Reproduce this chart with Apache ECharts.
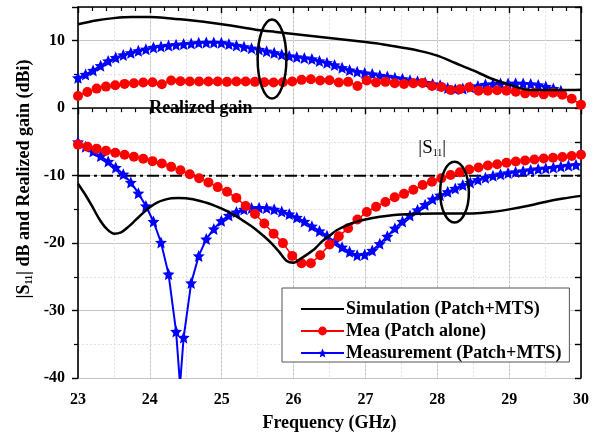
<!DOCTYPE html>
<html><head><meta charset="utf-8">
<script src="https://cdn.jsdelivr.net/npm/echarts@6/dist/echarts.min.js"></script>
<style>html,body{margin:0;padding:0;background:#fff}#c{width:598px;height:441px}</style>
</head><body><div id="c"></div>
<script>
// ---------- data ----------
const xTickLabels = [23, 24, 25, 26, 27, 28, 29, 30];
const yTickLabels = [-40, -30, -20, -10, 0, 10];

// Simulation (Patch+MTS)
const simGainFreq = [23.0,23.25,23.5,23.75,24.0,24.25,24.5,24.75,25.0,25.25,25.5,25.75,26.0,26.25,26.5,26.75,27.0,27.25,27.5,27.75,28.0,28.25,28.5,28.75,29.0,29.25,29.5,29.75,30.0];
const simGain     = [12.45,13.0,13.35,13.5,13.5,13.35,13.1,12.8,12.45,12.05,11.6,11.3,11.0,10.7,10.4,10.1,9.8,9.45,9.0,8.5,7.8,6.7,5.6,4.4,3.5,2.75,2.7,2.7,2.75];
const simS11Freq  = [23.0,23.1,23.2,23.3,23.4,23.5,23.6,23.7,23.8,23.9,24.0,24.1,24.2,24.3,24.4,24.5,24.6,24.7,24.8,24.9,25.0,25.1,25.2,25.3,25.4,25.5,25.6,25.7,25.8,25.9,26.0,26.1,26.2,26.3,26.4,26.5,26.6,26.8,27.0,27.2,27.5,28.0,28.5,28.75,29.0,29.25,29.5,29.75,30.0];
const simS11      = [-11.2,-12.8,-14.6,-16.5,-17.9,-18.6,-18.4,-17.6,-16.6,-15.6,-14.7,-14.0,-13.6,-13.35,-13.3,-13.35,-13.5,-13.75,-14.05,-14.45,-14.9,-15.4,-16.0,-16.7,-17.4,-18.2,-19.1,-20.1,-21.3,-22.6,-22.9,-22.3,-21.6,-20.8,-19.7,-18.9,-18.1,-17.1,-16.5,-16.1,-15.75,-15.6,-15.6,-15.4,-15.0,-14.5,-13.9,-13.4,-13.0];

// Mea (Patch alone): 55 samples, 23 to 30 GHz
const meaCount = 55;
const meaGain = [1.8,2.4,2.9,3.2,3.4,3.6,3.7,3.8,3.85,3.55,4.1,4.0,3.95,3.95,3.95,3.95,3.9,3.95,3.95,3.9,3.85,3.8,3.85,3.95,4.2,4.3,4.1,4.15,3.8,3.9,3.3,4.1,3.8,3.9,3.7,3.6,3.7,3.75,3.3,3.15,2.7,2.8,3.1,2.6,2.6,2.65,2.6,2.45,2.2,2.3,2.05,2.3,2.0,1.4,0.5];
const meaS11  = [-5.4,-5.7,-6.0,-6.3,-6.6,-6.9,-7.2,-7.5,-7.85,-8.2,-8.7,-9.2,-9.8,-10.4,-11.0,-11.7,-12.4,-13.3,-14.5,-15.7,-17.1,-18.6,-20.0,-21.9,-23.0,-23.0,-21.8,-20.2,-19.0,-17.8,-16.5,-15.4,-14.6,-13.9,-13.2,-12.7,-12.1,-11.4,-10.9,-10.4,-9.9,-9.5,-9.1,-8.8,-8.5,-8.3,-8.1,-7.9,-7.75,-7.6,-7.45,-7.35,-7.25,-7.1,-6.9];

// Measurement (Patch+MTS): samples every 0.105 GHz from 23 GHz
const msStep = 0.105;
const msS11 = [-5.0,-5.7,-6.4,-7.1,-7.9,-8.8,-9.8,-11.0,-12.6,-14.5,-16.8,-19.9,-24.6,-33.1,-34.0,-25.9,-21.9,-19.4,-17.9,-16.7,-15.9,-15.4,-15.0,-14.8,-14.75,-14.8,-15.0,-15.3,-15.7,-16.2,-16.8,-17.5,-18.2,-18.9,-19.8,-20.6,-21.3,-21.8,-21.7,-21.1,-20.1,-19.0,-17.8,-16.8,-15.9,-15.1,-14.3,-13.5,-12.9,-12.4,-11.9,-11.4,-11.0,-10.6,-10.3,-10.0,-9.8,-9.6,-9.45,-9.3,-9.15,-9.0,-8.9,-8.8,-8.65,-8.5,-8.4];
const msDipFreq = 24.42, msDipValue = -41;
const msGain = [4.5,5.0,5.6,6.3,7.0,7.5,7.9,8.2,8.5,8.75,9.0,9.15,9.3,9.4,9.5,9.6,9.7,9.75,9.75,9.7,9.5,9.3,9.1,8.9,8.7,8.45,8.2,7.95,7.75,7.6,7.45,7.3,7.0,6.75,6.4,6.0,5.65,5.4,5.2,5.05,4.85,4.7,4.5,4.35,4.15,4.0,3.8,3.6,3.4,3.0,2.8,2.9,3.1,3.3,3.5,3.6,3.65,3.65,3.7,3.65,3.6,3.45,3.2,2.9,2.6];

const refLevel = -10;

// annotations (data coordinates)
const ellipseGain = {f: 25.70, v: 7.3, df: 0.20, dv: 5.85};
const ellipseS11 = {f: 28.24, v: -12.45, df: 0.20, dv: 4.5};
const labelGain = {f: 24.71, v: 0.0, text: 'Realized gain'};
const labelS11 = {f: 27.93, v: -5.9};

// ---------- build ----------
const pairs = (xs, ys) => ys.map((y, i) => [xs[i], y]);
const meaFreq = Array.from({length: meaCount}, (_, i) => 23 + i * 7 / (meaCount - 1));
const msFreq = Array.from({length: msS11.length}, (_, i) => 23 + i * msStep);
const msS11Data = pairs(msFreq, msS11);
msS11Data.splice(14, 0, [msDipFreq, msDipValue]);
const msGainData = pairs(msFreq, msGain);

const FONT = '"Liberation Serif", "Times New Roman", serif';
const STAR = 'path://M0,-10L2.9,-3.6L9.51,-3.09L4.4,1.6L5.88,8.09L0,4.8L-5.88,8.09L-4.4,1.6L-9.51,-3.09L-2.9,-3.6Z';
const NAME_SIM = 'Simulation (Patch+MTS)';
const NAME_MEA = 'Mea (Patch alone)';
const NAME_MS = 'Measurement (Patch+MTS)';

const chart = echarts.init(document.getElementById('c'), null, {renderer: 'canvas'});
const axisLine = {show: true, lineStyle: {color: '#000', width: 1.6}};
const labelStyle = {color: '#000', fontFamily: FONT, fontWeight: 'bold', fontSize: 16};

const option = {
  animation: false,
  backgroundColor: '#fff',
  grid: {left: 78, right: 17, top: 7, bottom: 63},
  xAxis: [
    {type: 'value', min: 23, max: 30, interval: 1, position: 'bottom',
     axisLine, axisTick: {show: true, length: 6, lineStyle: {color: '#000', width: 1.4}},
     minorTick: {show: true, splitNumber: 5, length: 4, lineStyle: {color: '#000', width: 1.2}},
     splitLine: {show: true, lineStyle: {color: '#c4c4c4', width: 1}},
     axisLabel: {...labelStyle, margin: 14, formatter: v => xTickLabels.includes(v) ? String(v) : ''},
     name: 'Frequency (GHz)', nameLocation: 'middle', nameGap: 36,
     nameTextStyle: {color: '#000', fontFamily: FONT, fontWeight: 'bold', fontSize: 18}},
    {type: 'value', min: 23, max: 30, interval: 0.5, position: 'bottom',
     axisLine: {show: false}, axisTick: {show: false}, axisLabel: {show: false},
     splitLine: {show: true, lineStyle: {color: '#e2e2e2', width: 1, type: [2, 2]}}},
    {type: 'value', min: 23, max: 30, interval: 1, position: 'top',
     axisLine, axisTick: {show: true, inside: true, length: 6, lineStyle: {color: '#000', width: 1.4}},
     minorTick: {show: true, splitNumber: 5, length: 4, lineStyle: {color: '#000', width: 1.2}},
     axisLabel: {show: false}, splitLine: {show: false}}
  ],
  yAxis: [
    {type: 'value', min: -40, max: 15, interval: 10, position: 'left',
     axisLine, axisTick: {show: true, length: 6, lineStyle: {color: '#000', width: 1.4}},
     minorTick: {show: true, splitNumber: 2, length: 4, lineStyle: {color: '#000', width: 1.2}},
     splitLine: {show: true, lineStyle: {color: '#c4c4c4', width: 1}},
     minorSplitLine: {show: true, lineStyle: {color: '#e2e2e2', width: 1, type: [2, 2]}},
     axisLabel: {...labelStyle, margin: 13, formatter: v => yTickLabels.includes(v) ? String(v) : ''}},
    {type: 'value', min: -40, max: 15, interval: 5, position: 'right',
     axisLine, axisTick: {show: true, inside: true, length: 6, lineStyle: {color: '#000', width: 1.4}},
     axisLabel: {show: false}, splitLine: {show: false}}
  ],
  legend: {
    data: [{name: NAME_SIM, itemStyle: {opacity: 0}}, NAME_MEA, NAME_MS],
    orient: 'vertical', left: 282, top: 288,
    padding: [12, 8, 0, 18], itemGap: 4, itemWidth: 43, itemHeight: 11,
    backgroundColor: '#fff', borderColor: '#555', borderWidth: 1, borderRadius: 0,
    textStyle: {color: '#000', fontFamily: FONT, fontWeight: 'bold', fontSize: 18, padding: [0, 0, 0, -3]},
    selectedMode: false
  },
  series: [
    {name: '-10 dB', type: 'line', data: [[23, refLevel], [30, refLevel]], symbol: 'none',
     lineStyle: {color: '#000', width: 2, type: [12, 4, 3, 4]}, z: 1},
    {name: NAME_MS, type: 'line', data: msS11Data, symbol: STAR, symbolSize: 12,
     itemStyle: {color: '#0000ff'}, lineStyle: {color: '#0000ff', width: 2}, z: 2},
    {name: NAME_MS, type: 'line', data: msGainData, symbol: STAR, symbolSize: 12,
     itemStyle: {color: '#0000ff'}, lineStyle: {color: '#0000ff', width: 2}, z: 2},
    {name: NAME_MEA, type: 'line', data: pairs(meaFreq, meaS11), symbol: 'circle', symbolSize: 10,
     itemStyle: {color: '#ff0000'}, lineStyle: {color: '#ff0000', width: 1.5}, z: 3},
    {name: NAME_MEA, type: 'line', data: pairs(meaFreq, meaGain), symbol: 'circle', symbolSize: 10,
     itemStyle: {color: '#ff0000'}, lineStyle: {color: '#ff0000', width: 1.5}, z: 3},
    {name: NAME_SIM, type: 'line', data: pairs(simS11Freq, simS11), symbol: 'none', smooth: 0.3,
     itemStyle: {color: '#000'}, lineStyle: {color: '#000', width: 2.5}, z: 4},
    {name: NAME_SIM, type: 'line', data: pairs(simGainFreq, simGain), symbol: 'none', smooth: 0.3,
     itemStyle: {color: '#000'}, lineStyle: {color: '#000', width: 2.5}, z: 4}
  ]
};
chart.setOption(option);

function px(f, v) { return chart.convertToPixel({xAxisIndex: 0, yAxisIndex: 0}, [f, v]); }
function ellipse(e) {
  const c = px(e.f, e.v), r = px(e.f + e.df, e.v + e.dv);
  return {type: 'ellipse', z: 10, shape: {cx: c[0], cy: c[1], rx: Math.abs(r[0] - c[0]), ry: Math.abs(c[1] - r[1])},
          style: {fill: 'none', stroke: '#000', lineWidth: 2.5}};
}
const lg = px(labelGain.f, labelGain.v);
const ls = px(labelS11.f, labelS11.v);
const bold = {fontFamily: FONT, fontWeight: 'bold', fill: '#000'};
const regular = {fontFamily: FONT, fontWeight: 'normal', fill: '#000'};
chart.setOption({graphic: [
  ellipse(ellipseGain), ellipse(ellipseS11),
  {type: 'text', z: 10, x: lg[0], y: lg[1], style: {...bold, text: labelGain.text, fontSize: 18, align: 'center', verticalAlign: 'middle'}},
  {type: 'text', z: 10, x: ls[0], y: ls[1], style: {text: '{a||S}{b|11}{a||}', align: 'center', verticalAlign: 'middle',
    rich: {a: {...regular, fontSize: 19}, b: {...regular, fontSize: 10, padding: [10, 0, 0, 0]}}}},
  {type: 'text', z: 10, x: 24, y: 179, rotation: Math.PI / 2, style: {text: '{a||S}{b|11}{a|| dB and Realized gain (dBi)}', align: 'center', verticalAlign: 'middle',
    rich: {a: {...bold, fontSize: 18}, b: {...bold, fontSize: 10, padding: [10, 0, 0, 0]}}}}
]});
</script></body></html>
